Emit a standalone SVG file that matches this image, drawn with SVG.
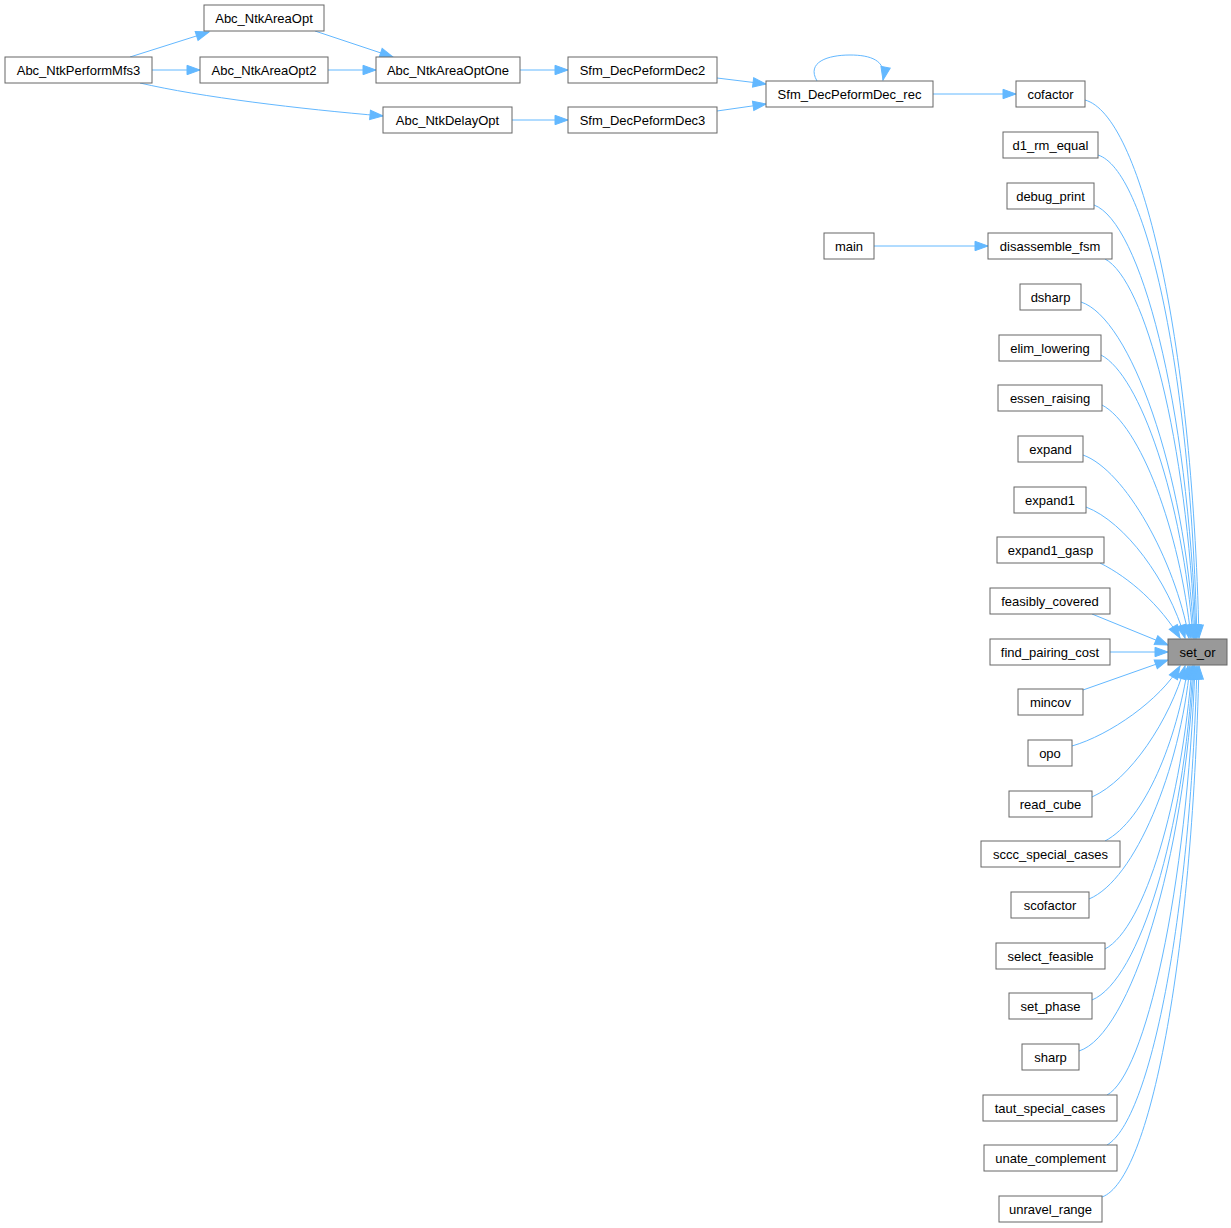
<svg xmlns="http://www.w3.org/2000/svg" width="1231" height="1228" viewBox="0 0 1231 1228">
<defs>
<style>
.n rect{fill:#ffffff;stroke:#666666;stroke-width:1}
.n.h rect{fill:#999999}
.n text{font-family:"Liberation Sans",Arial,sans-serif;font-size:13px;fill:#000;text-anchor:middle}
.e path{fill:none;stroke:#63b8ff;stroke-width:1;marker-end:url(#ah)}
</style>
<marker id="ah" markerUnits="userSpaceOnUse" markerWidth="14" markerHeight="10" refX="13" refY="4.7" orient="auto" overflow="visible">
<path d="M0,0 L13,4.7 L0,9.4 z" fill="#63b8ff" stroke="#63b8ff" stroke-width="1"/>
</marker>
</defs>
<rect width="1231" height="1228" fill="#ffffff"/>
<g class="e" id="edges">
<path d="M130,57 L209,32"/>
<path d="M152,70 L200,70"/>
<path d="M140,83 C200,97 300,109 383,116"/>
<path d="M315,31 L393,57"/>
<path d="M328,70 L376,70"/>
<path d="M520,70 L568,70"/>
<path d="M512,120 L568,120"/>
<path d="M717,78 L766,84"/>
<path d="M717,111 L766,104"/>
<path d="M817,81 C806,62 828,55 850,55 C870,55 887,60 883,80"/>
<path d="M933,94 L1016,94"/>
<path d="M874,246 L988,246"/>
<path d="M1085,100 C1140,115 1192,330 1199,638"/>
<path d="M1098,155 C1145,170 1190,360 1197,638"/>
<path d="M1094,205 C1140,222 1188,400 1196,638"/>
<path d="M1105,259 C1145,280 1187,440 1195,638"/>
<path d="M1081,302 C1130,318 1185,470 1194,638"/>
<path d="M1101,355 C1140,375 1183,500 1193,638"/>
<path d="M1102,405 C1140,425 1180,530 1191,638"/>
<path d="M1083,455 C1125,470 1175,560 1189,638"/>
<path d="M1086,507 C1125,522 1168,580 1185,638"/>
<path d="M1100,563 C1130,578 1160,605 1180,638"/>
<path d="M1092,614 L1168,645"/>
<path d="M1110,652 L1168,652"/>
<path d="M1083,690 L1168,660"/>
<path d="M1072,746 C1110,735 1160,700 1180,666"/>
<path d="M1092,797 C1130,780 1170,720 1185,666"/>
<path d="M1105,841 C1145,820 1177,740 1188,666"/>
<path d="M1089,899 C1135,880 1180,770 1190,666"/>
<path d="M1105,949 C1145,928 1182,800 1192,666"/>
<path d="M1092,1000 C1140,980 1184,830 1193,666"/>
<path d="M1079,1051 C1130,1035 1185,860 1194,666"/>
<path d="M1107,1095 C1145,1075 1187,890 1195,666"/>
<path d="M1107,1145 C1150,1120 1190,920 1197,666"/>
<path d="M1102,1197 C1150,1180 1192,960 1199,666"/>
</g>
<g class="n" id="Abc_NtkPerformMfs3"><rect x="5" y="57" width="147" height="26"/><text x="78.5" y="74.5">Abc_NtkPerformMfs3</text></g>
<g class="n" id="Abc_NtkAreaOpt"><rect x="204" y="5" width="120" height="26"/><text x="264" y="22.5">Abc_NtkAreaOpt</text></g>
<g class="n" id="Abc_NtkAreaOpt2"><rect x="200" y="57" width="128" height="26"/><text x="264" y="74.5">Abc_NtkAreaOpt2</text></g>
<g class="n" id="Abc_NtkAreaOptOne"><rect x="376" y="57" width="144" height="26"/><text x="448" y="74.5">Abc_NtkAreaOptOne</text></g>
<g class="n" id="Abc_NtkDelayOpt"><rect x="383" y="107" width="129" height="26"/><text x="447.5" y="124.5">Abc_NtkDelayOpt</text></g>
<g class="n" id="Sfm_DecPeformDec2"><rect x="568" y="57" width="149" height="26"/><text x="642.5" y="74.5">Sfm_DecPeformDec2</text></g>
<g class="n" id="Sfm_DecPeformDec3"><rect x="568" y="107" width="149" height="26"/><text x="642.5" y="124.5">Sfm_DecPeformDec3</text></g>
<g class="n" id="Sfm_DecPeformDec_rec"><rect x="766" y="81" width="167" height="26"/><text x="849.5" y="98.5">Sfm_DecPeformDec_rec</text></g>
<g class="n" id="main"><rect x="824" y="233" width="50" height="26"/><text x="849" y="250.5">main</text></g>
<g class="n" id="cofactor"><rect x="1016" y="81" width="69" height="26"/><text x="1050.5" y="98.5">cofactor</text></g>
<g class="n" id="d1_rm_equal"><rect x="1003" y="132" width="95" height="26"/><text x="1050.5" y="149.5">d1_rm_equal</text></g>
<g class="n" id="debug_print"><rect x="1007" y="183" width="87" height="26"/><text x="1050.5" y="200.5">debug_print</text></g>
<g class="n" id="disassemble_fsm"><rect x="988" y="233" width="124" height="26"/><text x="1050" y="250.5">disassemble_fsm</text></g>
<g class="n" id="dsharp"><rect x="1020" y="284" width="61" height="26"/><text x="1050.5" y="301.5">dsharp</text></g>
<g class="n" id="elim_lowering"><rect x="999" y="335" width="102" height="26"/><text x="1050" y="352.5">elim_lowering</text></g>
<g class="n" id="essen_raising"><rect x="998" y="385" width="104" height="26"/><text x="1050" y="402.5">essen_raising</text></g>
<g class="n" id="expand"><rect x="1018" y="436" width="65" height="26"/><text x="1050.5" y="453.5">expand</text></g>
<g class="n" id="expand1"><rect x="1014" y="487" width="72" height="26"/><text x="1050" y="504.5">expand1</text></g>
<g class="n" id="expand1_gasp"><rect x="997" y="537" width="107" height="26"/><text x="1050.5" y="554.5">expand1_gasp</text></g>
<g class="n" id="feasibly_covered"><rect x="990" y="588" width="120" height="26"/><text x="1050" y="605.5">feasibly_covered</text></g>
<g class="n" id="find_pairing_cost"><rect x="990" y="639" width="120" height="26"/><text x="1050" y="656.5">find_pairing_cost</text></g>
<g class="n" id="mincov"><rect x="1018" y="689" width="65" height="26"/><text x="1050.5" y="706.5">mincov</text></g>
<g class="n" id="opo"><rect x="1028" y="740" width="44" height="26"/><text x="1050" y="757.5">opo</text></g>
<g class="n" id="read_cube"><rect x="1009" y="791" width="83" height="26"/><text x="1050.5" y="808.5">read_cube</text></g>
<g class="n" id="sccc_special_cases"><rect x="981" y="841" width="139" height="26"/><text x="1050.5" y="858.5">sccc_special_cases</text></g>
<g class="n" id="scofactor"><rect x="1011" y="892" width="78" height="26"/><text x="1050" y="909.5">scofactor</text></g>
<g class="n" id="select_feasible"><rect x="996" y="943" width="109" height="26"/><text x="1050.5" y="960.5">select_feasible</text></g>
<g class="n" id="set_phase"><rect x="1009" y="993" width="83" height="26"/><text x="1050.5" y="1010.5">set_phase</text></g>
<g class="n" id="sharp"><rect x="1022" y="1044" width="57" height="26"/><text x="1050.5" y="1061.5">sharp</text></g>
<g class="n" id="taut_special_cases"><rect x="983" y="1095" width="134" height="26"/><text x="1050" y="1112.5">taut_special_cases</text></g>
<g class="n" id="unate_complement"><rect x="984" y="1145" width="133" height="26"/><text x="1050.5" y="1162.5">unate_complement</text></g>
<g class="n" id="unravel_range"><rect x="999" y="1196" width="103" height="26"/><text x="1050.5" y="1213.5">unravel_range</text></g>
<g class="n h" id="set_or"><rect x="1168" y="639" width="59" height="26"/><text x="1197.5" y="656.5">set_or</text></g>
</svg>
